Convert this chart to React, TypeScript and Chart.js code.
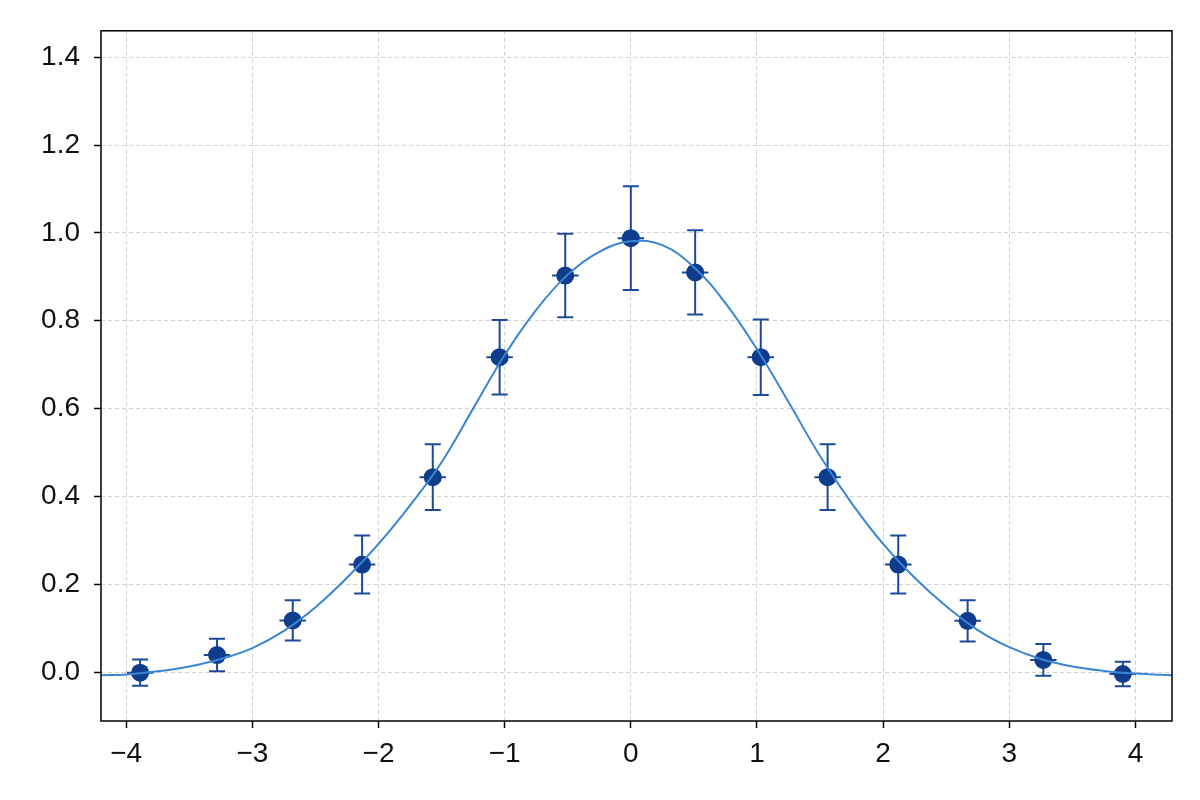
import React, { useEffect, useRef } from "react";
import { Chart, registerables } from "chart.js";

Chart.register(...registerables);

// measured points (x, y, errors)
const POINT_X = [-3.89, -3.28, -2.68, -2.13, -1.57, -1.04, -0.52, 0.0, 0.51, 1.03, 1.56, 2.12, 2.67, 3.27, 3.9];
const POINT_Y = [-0.001, 0.039, 0.118, 0.245, 0.444, 0.717, 0.903, 0.988, 0.91, 0.717, 0.444, 0.245, 0.117, 0.028, -0.004];
const POINT_YERR = [0.03, 0.037, 0.046, 0.066, 0.075, 0.085, 0.095, 0.118, 0.096, 0.086, 0.075, 0.066, 0.047, 0.036, 0.028];
const POINT_XERR = [0.105, 0.105, 0.105, 0.105, 0.105, 0.105, 0.105, 0.105, 0.105, 0.105, 0.105, 0.105, 0.105, 0.105, 0.105];

// fitted curve
const FIT_X = [
  -4.2, -4.0, -3.75, -3.5, -3.25, -3.0, -2.75, -2.5, -2.25, -2.0, -1.75, -1.5, -1.25, -1.0, -0.75, -0.5, -0.25,
  0.0, 0.25, 0.5, 0.75, 1.0, 1.25, 1.5, 1.75, 2.0, 2.25, 2.5, 2.75, 3.0, 3.25, 3.5, 3.75, 4.0, 4.3,
];
const FIT_Y = [
  -0.007, -0.005, 0.002, 0.013, 0.03, 0.055, 0.094, 0.148, 0.215, 0.292, 0.38, 0.478, 0.6, 0.722, 0.825, 0.905, 0.957,
  0.981, 0.972, 0.922, 0.84, 0.735, 0.615, 0.492, 0.385, 0.292, 0.215, 0.15, 0.096, 0.057, 0.03, 0.013, 0.003, -0.003, -0.007,
];

const X_TICKS = [-4, -3, -2, -1, 0, 1, 2, 3, 4];
const Y_TICKS = [0, 0.2, 0.4, 0.6, 0.8, 1.0, 1.2, 1.4];

const MARKER_COLOR = "#0f3d8e";
const ERR_COLOR = "#1b4a98";
const CURVE_COLOR = "#3a86d2";
const CAP = 8;

const errorBars = {
  id: "errorBars",
  beforeDatasetsDraw(chart: any) {
    const { ctx, scales } = chart;
    const x = scales.x;
    const y = scales.y;
    ctx.save();
    ctx.strokeStyle = ERR_COLOR;
    ctx.lineWidth = 2;
    POINT_X.forEach((px, i) => {
      const cx = x.getPixelForValue(px);
      const cy = y.getPixelForValue(POINT_Y[i]);
      const top = y.getPixelForValue(POINT_Y[i] + POINT_YERR[i]);
      const bot = y.getPixelForValue(POINT_Y[i] - POINT_YERR[i]);
      const l = x.getPixelForValue(px - POINT_XERR[i]);
      const r = x.getPixelForValue(px + POINT_XERR[i]);
      ctx.beginPath();
      ctx.moveTo(cx, top);
      ctx.lineTo(cx, bot);
      ctx.moveTo(cx - CAP, top);
      ctx.lineTo(cx + CAP, top);
      ctx.moveTo(cx - CAP, bot);
      ctx.lineTo(cx + CAP, bot);
      ctx.moveTo(l, cy);
      ctx.lineTo(r, cy);
      ctx.stroke();
    });
    ctx.restore();
  },
  afterDraw(chart: any) {
    const { ctx, chartArea } = chart;
    ctx.save();
    ctx.strokeStyle = "#000";
    ctx.lineWidth = 1.5;
    ctx.strokeRect(chartArea.left, chartArea.top, chartArea.right - chartArea.left, chartArea.bottom - chartArea.top);
    ctx.restore();
  },
};

const tickFont = { family: "'Liberation Sans', Arial, sans-serif", size: 28 };

const App = () => {
  const canvasRef = useRef<HTMLCanvasElement>(null);
  const chartRef = useRef<any>(null);

  useEffect(() => {
    if (!canvasRef.current) return;
    if (chartRef.current) chartRef.current.destroy();

    chartRef.current = new Chart(canvasRef.current, {
      type: "scatter",
      data: {
        datasets: [
          {
            type: "line",
            label: "fit",
            data: FIT_X.map((x, i) => ({ x, y: FIT_Y[i] })),
            borderColor: CURVE_COLOR,
            borderWidth: 2,
            pointRadius: 0,
            tension: 0.4,
            fill: false,
            order: 0,
          },
          {
            label: "data",
            data: POINT_X.map((x, i) => ({ x, y: POINT_Y[i] })),
            backgroundColor: MARKER_COLOR,
            borderWidth: 0,
            pointRadius: 9,
            order: 1,
          },
        ],
      },
      options: {
        animation: false,
        responsive: true,
        maintainAspectRatio: false,
        layout: { padding: { top: 29, right: 28, left: 0, bottom: 0 } },
        plugins: { legend: { display: false }, tooltip: { enabled: false } },
        scales: {
          x: {
            type: "linear",
            min: -4.2,
            max: 4.29,
            afterBuildTicks: (scale: any) => {
              scale.ticks = X_TICKS.map((value) => ({ value }));
            },
            afterFit: (scale: any) => {
              scale.height = 79;
            },
            grid: { color: "#d2d2d2", lineWidth: 1, tickLength: 7, tickColor: "#000", tickWidth: 1.5 },
            border: { display: false, dash: [4, 3] },
            ticks: {
              font: tickFont,
              color: "#111",
              padding: 9,
              maxRotation: 0,
              callback: (v: any) => (v < 0 ? "\u2212" + Math.abs(v) : String(v)),
            },
          },
          y: {
            type: "linear",
            min: -0.111,
            max: 1.46,
            afterBuildTicks: (scale: any) => {
              scale.ticks = Y_TICKS.map((value) => ({ value }));
            },
            afterFit: (scale: any) => {
              scale.width = 101;
            },
            grid: { color: "#d2d2d2", lineWidth: 1, tickLength: 7, tickColor: "#000", tickWidth: 1.5 },
            border: { display: false, dash: [4, 3] },
            ticks: {
              font: tickFont,
              color: "#111",
              padding: 14,
              callback: (v: any) => Number(v).toFixed(1),
            },
          },
        },
      },
      plugins: [errorBars],
    });

    return () => {
      if (chartRef.current) {
        chartRef.current.destroy();
        chartRef.current = null;
      }
    };
  }, []);

  return (
    <div style={{ position: "absolute", left: 0, top: 0, width: 1200, height: 800, background: "#fff" }}>
      <canvas ref={canvasRef} />
    </div>
  );
};

export default App;
